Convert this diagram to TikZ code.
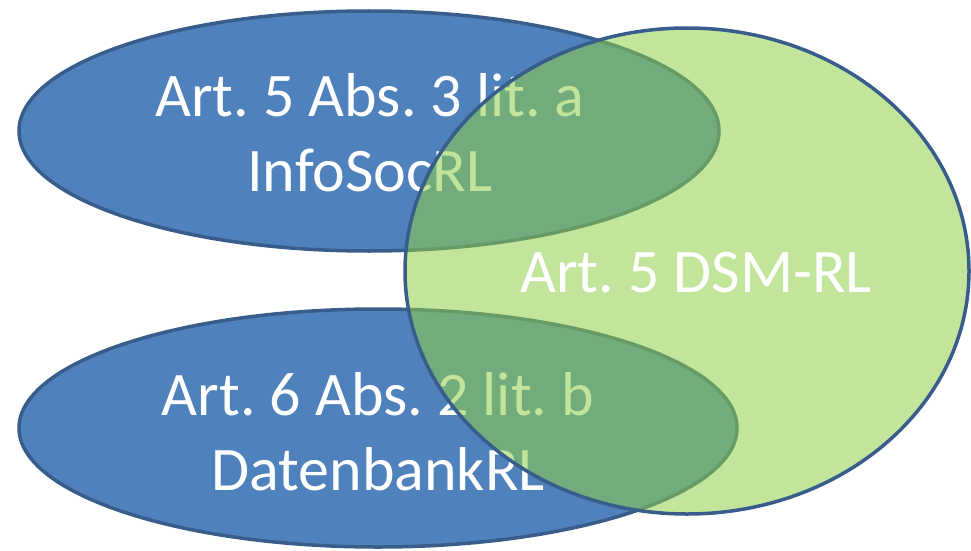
\documentclass[tikz,border=0pt]{standalone}
\usepackage{fontspec}
\setmainfont{Carlito}
\frenchspacing
\usetikzlibrary{shapes.geometric}
\definecolor{bluefill}{RGB}{79,129,189}
\definecolor{bluedraw}{RGB}{56,93,138}
\definecolor{greenfill}{RGB}{143,206,72}
\tikzset{
  blueell/.style={ellipse, draw=bluedraw, fill=bluefill, line width=3.5pt, inner sep=0pt, text=white, align=center},
  greenell/.style={ellipse, draw=bluedraw, fill=greenfill, fill opacity=0.55, draw opacity=1, line width=3.5pt, inner sep=0pt},
  lbl/.style={text=white, align=center, inner sep=0pt, font=\fontsize{62}{75}\selectfont}
}
\begin{document}
\begin{tikzpicture}[x=1pt,y=-1pt]
\useasboundingbox (0,0) rectangle (971,551);
\node[blueell, minimum width=700pt, minimum height=240pt] (top) at (369,131) {};
\node[lbl] (toptext) at (370,133) {Art. 5 Abs. 3 lit. a\\InfoSocRL};
\node[blueell, minimum width=718pt, minimum height=238pt] (bot) at (378,428) {};
\node[lbl] (bottext) at (378,432) {Art. 6 Abs. 2 lit. b\\DatenbankRL};
\node[greenell, minimum width=564pt, minimum height=486pt] (dsm) at (687,271) {};
\node[lbl] (dsmtext) at (696,273) {Art. 5 DSM-RL};
\end{tikzpicture}
\end{document}
